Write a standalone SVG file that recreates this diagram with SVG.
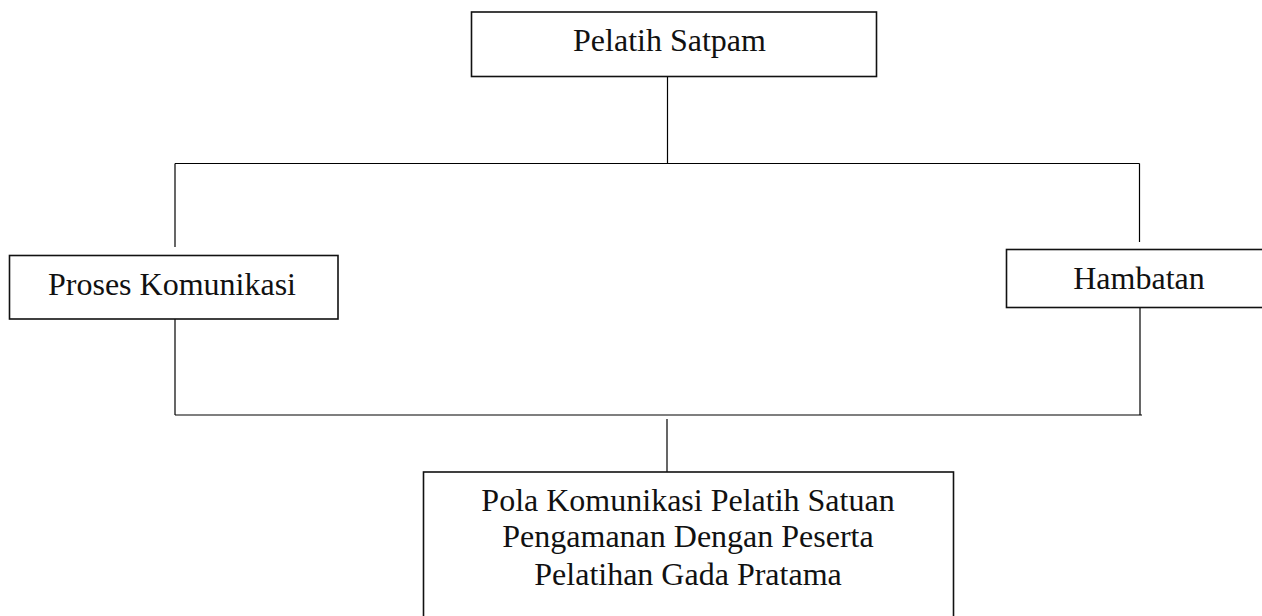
<svg xmlns="http://www.w3.org/2000/svg" width="1262" height="616" viewBox="0 0 1262 616">
<style>
.box{fill:#fff;stroke:#111;stroke-width:1.6}
.txt{font-family:"Liberation Serif","Times New Roman",serif;font-size:32px;fill:#111;text-anchor:middle}
.con{stroke:#000;stroke-width:1.2;fill:none}
</style>
<rect width="1262" height="616" fill="#fff"/>
<g id="connectors">
<line class="con" x1="667.5" y1="77" x2="667.5" y2="163.5"/>
<line class="con" x1="175" y1="163.5" x2="1139.5" y2="163.5"/>
<line class="con" x1="175" y1="163.5" x2="175" y2="247"/>
<line class="con" x1="1139.5" y1="163.5" x2="1139.5" y2="242"/>
<line class="con" x1="175" y1="319" x2="175" y2="415"/>
<line class="con" x1="1140" y1="308" x2="1140" y2="415"/>
<line class="con" x1="175" y1="415" x2="1142" y2="415"/>
<line class="con" x1="667" y1="419" x2="667" y2="472"/>
</g>
<g id="node-pelatih-satpam">
<rect class="box" x="471.5" y="12" width="405" height="64.5"/>
<text class="txt" x="669.5" y="50.5">Pelatih Satpam</text>
</g>
<g id="node-proses-komunikasi">
<rect class="box" x="9.5" y="255.5" width="328.5" height="63.5"/>
<text class="txt" x="172" y="295">Proses Komunikasi</text>
</g>
<g id="node-hambatan">
<rect class="box" x="1006.5" y="249.5" width="270" height="58"/>
<text class="txt" x="1139" y="288.5">Hambatan</text>
</g>
<g id="node-pola-komunikasi">
<rect class="box" x="423.5" y="472" width="530" height="160"/>
<text class="txt" x="688" y="510.5">Pola Komunikasi Pelatih Satuan</text>
<text class="txt" x="688" y="547">Pengamanan Dengan Peserta</text>
<text class="txt" x="688" y="585">Pelatihan Gada Pratama</text>
</g>
</svg>
